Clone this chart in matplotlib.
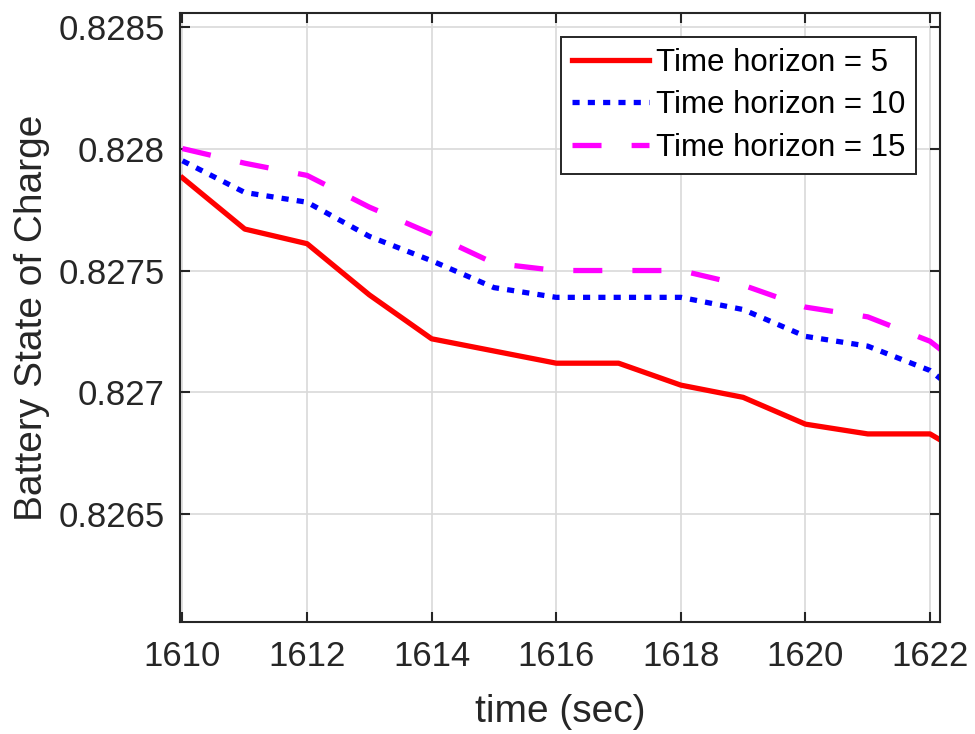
import matplotlib
matplotlib.use("Agg")
import matplotlib.pyplot as plt

plt.rcParams['font.family'] = ['Liberation Sans', 'DejaVu Sans']

time = [1610, 1611, 1612, 1613, 1614, 1615, 1616, 1617, 1618, 1619, 1620, 1621, 1622, 1622.2]
soc_h5 = [0.82788, 0.82767, 0.82761, 0.82740, 0.82722, 0.82717, 0.82712, 0.82712,
          0.82703, 0.82698, 0.82687, 0.82683, 0.82683, 0.82680]
soc_h10 = [0.82795, 0.82782, 0.82778, 0.82764, 0.82754, 0.82743, 0.82739, 0.82739,
           0.82739, 0.82734, 0.82723, 0.82719, 0.82709, 0.82705]
soc_h15 = [0.82800, 0.82794, 0.82789, 0.82776, 0.82765, 0.82753, 0.82750, 0.82750,
           0.82750, 0.82744, 0.82735, 0.82731, 0.82721, 0.82717]
labels = ['Time horizon = 5', 'Time horizon = 10', 'Time horizon = 15']
xticks = [1610, 1612, 1614, 1616, 1618, 1620, 1622]
yticks = [0.8265, 0.827, 0.8275, 0.828, 0.8285]
ytick_labels = ['0.8265', '0.827', '0.8275', '0.828', '0.8285']

fig = plt.figure(figsize=(9.75, 7.34), dpi=100)
ax = fig.add_axes([0.1846, 0.153, 0.7795, 0.8293])

axc = (0.15, 0.15, 0.15)
lw = 3.8
ax.plot(time, soc_h5, color=(1, 0, 0), lw=lw, linestyle='-', label=labels[0])
ax.plot(time, soc_h10, color=(0, 0, 1), lw=lw, linestyle=(0, (1.35, 1.55)),
        dash_capstyle='butt', label=labels[1])
ax.plot(time, soc_h15, color=(1, 0, 1), lw=lw, linestyle=(0, (5.5, 5.7)),
        dash_capstyle='butt', label=labels[2])

ax.set_xlim(1609.96, 1622.16)
ax.set_ylim(0.82606, 0.828556)
ax.set_xticks(xticks)
ax.set_xticklabels([str(t) for t in xticks])
ax.set_yticks(yticks)
ax.set_yticklabels(ytick_labels)

ax.grid(True, color=(0.85, 0.85, 0.85), lw=1.2)
ax.set_axisbelow(True)
for s in ax.spines.values():
    s.set_color(axc)
    s.set_linewidth(1.5)
ax.tick_params(direction='in', length=7, width=1.5, colors=axc, labelsize=25,
               top=True, right=True, labelcolor=axc)
ax.tick_params(axis='x', pad=13)
ax.tick_params(axis='y', pad=11)

ax.set_xlabel('time (sec)', fontsize=28, color=axc, labelpad=15)
ax.set_ylabel('Battery State of Charge', fontsize=28, color=axc)
ax.yaxis.set_label_coords(-0.171, 0.5)

leg = ax.legend(loc='upper right', bbox_to_anchor=(0.969, 0.961), fontsize=22.5,
                frameon=True, fancybox=False, edgecolor=axc, framealpha=1,
                handlelength=2.46, handletextpad=0.22, borderpad=0.35,
                labelspacing=0.4, borderaxespad=0)
leg.get_frame().set_linewidth(1.4)
for t in leg.get_texts():
    t.set_color('black')

fig.savefig('out.png', dpi=100)
